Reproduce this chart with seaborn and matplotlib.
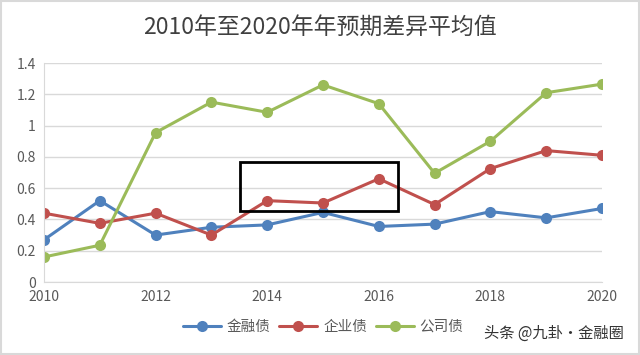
import matplotlib.pyplot as plt
import matplotlib.patches as mpatches
import numpy as np
import pandas as pd
import seaborn as sns

sns.set_style("white")
plt.rcParams['font.family'] = ['Noto Sans CJK SC', 'DejaVu Sans']

years = list(range(2010, 2021))
jinrong = [0.27, 0.52, 0.30, 0.35, 0.365, 0.445, 0.355, 0.37, 0.45, 0.41, 0.47]
qiye = [0.44, 0.375, 0.44, 0.30, 0.52, 0.505, 0.66, 0.495, 0.725, 0.84, 0.81]
gongsi = [0.16, 0.235, 0.955, 1.15, 1.085, 1.26, 1.14, 0.695, 0.90, 1.21, 1.265]
series_names = ['金融债', '企业债', '公司债']
colors = ['#4F81BD', '#C0504D', '#9BBB59']

df = pd.DataFrame({'年份': years * 3,
                   '值': jinrong + qiye + gongsi,
                   '类别': [n for n in series_names for _ in years]})

fig = plt.figure(figsize=(6.4, 3.55), dpi=100)
ax = fig.add_axes([44 / 640, 1 - 282 / 355, (602 - 44) / 640, (282 - 63) / 355])

sns.lineplot(data=df, x='年份', y='值', hue='类别', palette=colors,
             marker='o', markersize=8, markeredgewidth=0, linewidth=2.2,
             ax=ax, legend=False)

ax.set_xlim(2010, 2020)
ax.set_ylim(0, 1.4)
ax.set_xticks(range(2010, 2021, 2))
ax.set_yticks(np.arange(0, 1.41, 0.2))
ax.set_yticklabels(['0', '0.2', '0.4', '0.6', '0.8', '1', '1.2', '1.4'])
ax.set_xlabel('')
ax.set_ylabel('')
ax.tick_params(axis='both', labelsize=10, colors='#595959', length=0, pad=6)
ax.yaxis.grid(True, color='#D9D9D9', linewidth=1)
ax.set_axisbelow(True)
for s in ['top', 'right']:
    ax.spines[s].set_visible(False)
for s in ['left', 'bottom']:
    ax.spines[s].set_color('#D9D9D9')

# highlight box
ax.add_patch(mpatches.Rectangle((2013.51, 0.454), 2.83, 0.313, fill=False,
                                edgecolor='black', linewidth=2, zorder=5))

fig.text(0.5, 1 - 27 / 355, '2010年至2020年年预期差异平均值', ha='center', va='center',
         fontsize=16.5, color='#404040')

handles = [plt.Line2D([], [], color=c, marker='o', markersize=8, linewidth=2.2,
                      markeredgewidth=0) for c in colors]
fig.legend(handles, series_names, loc='center', bbox_to_anchor=(0.505, 1 - 327 / 355),
           ncol=3, frameon=False, fontsize=10.5, handlelength=2.6, columnspacing=0.6,
           handletextpad=0.4, labelcolor='#595959')

fig.text(0.975, 1 - 333 / 355, '头条 @九卦·金融圈', ha='right', va='center',
         fontsize=11, color='#333333')

fig.patches.append(mpatches.Rectangle((0.002, 0.003), 0.996, 0.994, transform=fig.transFigure,
                                      fill=False, edgecolor='#D9D9D9', linewidth=1.5))

fig.savefig('out.png', dpi=100)
